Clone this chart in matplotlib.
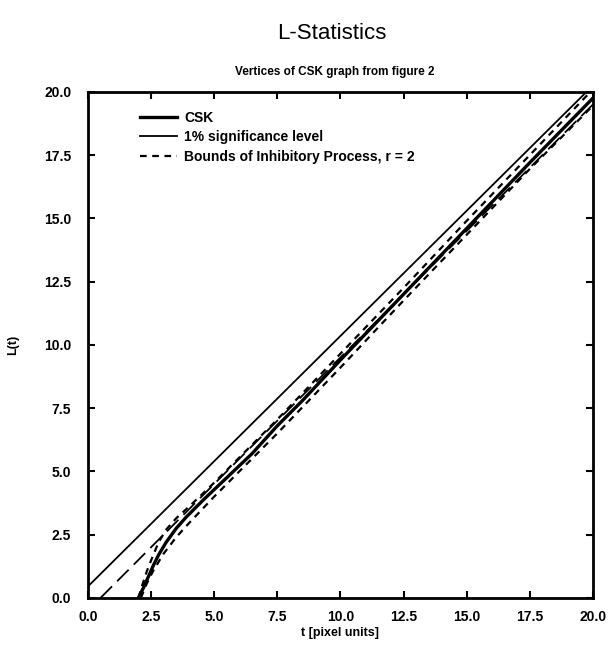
import numpy as np
import matplotlib.pyplot as plt

# --- data ---
t_csk = [2.0, 2.2, 2.4, 2.6, 2.8, 3.1, 3.5, 3.9, 4.6, 5.5, 6.5, 7.5, 8.5, 10.0, 12.5, 15.0, 17.5, 20.0]
L_csk = [0.0, 0.4, 0.85, 1.3, 1.7, 2.2, 2.75, 3.2, 3.9, 4.75, 5.7, 6.8, 7.8, 9.4, 12.0, 14.6, 17.2, 19.75]

t_sig_up = [0.0, 20.0]
L_sig_up = [0.45, 20.25]
t_sig_lo = [0.5, 20.0]
L_sig_lo = [0.0, 19.5]

t_inh_up = [2.0, 2.15, 2.35, 2.55, 2.8, 3.1, 3.5, 4.0, 5.0, 6.0, 7.5, 10.0, 12.5, 15.0, 17.5, 20.0]
L_inh_up = [0.0, 0.5, 1.1, 1.6, 2.2, 2.7, 3.15, 3.6, 4.55, 5.55, 7.05, 9.65, 12.25, 14.9, 17.5, 20.1]
t_inh_lo = [2.1, 2.3, 2.6, 3.0, 3.5, 4.0, 5.0, 6.0, 7.5, 10.0, 12.5, 15.0, 17.5, 20.0]
L_inh_lo = [0.0, 0.5, 1.1, 1.75, 2.4, 2.95, 4.0, 5.0, 6.5, 9.1, 11.75, 14.35, 16.95, 19.45]

xticks = [0.0, 2.5, 5.0, 7.5, 10.0, 12.5, 15.0, 17.5, 20.0]
yticks = [0.0, 2.5, 5.0, 7.5, 10.0, 12.5, 15.0, 17.5, 20.0]

plt.rcParams['font.family'] = ['Liberation Sans', 'DejaVu Sans']
plt.rcParams['font.weight'] = 'bold'

fig = plt.figure(figsize=(6.15, 6.47), dpi=100)
ax = fig.add_axes([0.143, 0.076, 0.821, 0.782])

ax.plot(t_csk, L_csk, color='black', lw=2.4, label='CSK')
ax.plot(t_sig_up, L_sig_up, color='black', lw=1.3, label='1% significance level')
ax.plot(t_sig_lo, L_sig_lo, color='black', lw=1.3, dashes=(9, 4))
ax.plot(t_inh_up, L_inh_up, color='black', lw=1.6, dashes=(3, 2.5),
        label='Bounds of Inhibitory Process, r = 2')
ax.plot(t_inh_lo, L_inh_lo, color='black', lw=1.6, dashes=(3, 2.5))

ax.set_xlim(0, 20)
ax.set_ylim(0, 20)
ax.set_xticks(xticks)
ax.set_yticks(yticks)
ax.set_xticklabels(['%.1f' % v for v in xticks], fontsize=10, fontweight='bold')
ax.set_yticklabels(['%.1f' % v for v in yticks], fontsize=10, fontweight='bold')
ax.tick_params(direction='in', length=5, width=1.5, top=True, right=True)
ax.tick_params(axis='x', pad=9)
ax.tick_params(axis='y', pad=12)
for s in ax.spines.values():
    s.set_linewidth(2)

ax.set_xlabel('t [pixel units]', fontsize=9, fontweight='bold', labelpad=2)
ax.set_ylabel('L(t)', fontsize=9, fontweight='bold', labelpad=18)

fig.text(0.54, 0.948, 'L-Statistics', fontsize=16, fontweight='normal', ha='center', va='center')
fig.text(0.545, 0.888, 'Vertices of CSK graph from figure 2', fontsize=8.5, fontweight='bold',
         ha='center', va='center')

leg = ax.legend(loc='upper left', bbox_to_anchor=(0.092, 0.974), frameon=False, fontsize=10,
                handlelength=2.7, handletextpad=0.5, labelspacing=0.4, borderaxespad=0)

fig.savefig('out.png', dpi=100)
